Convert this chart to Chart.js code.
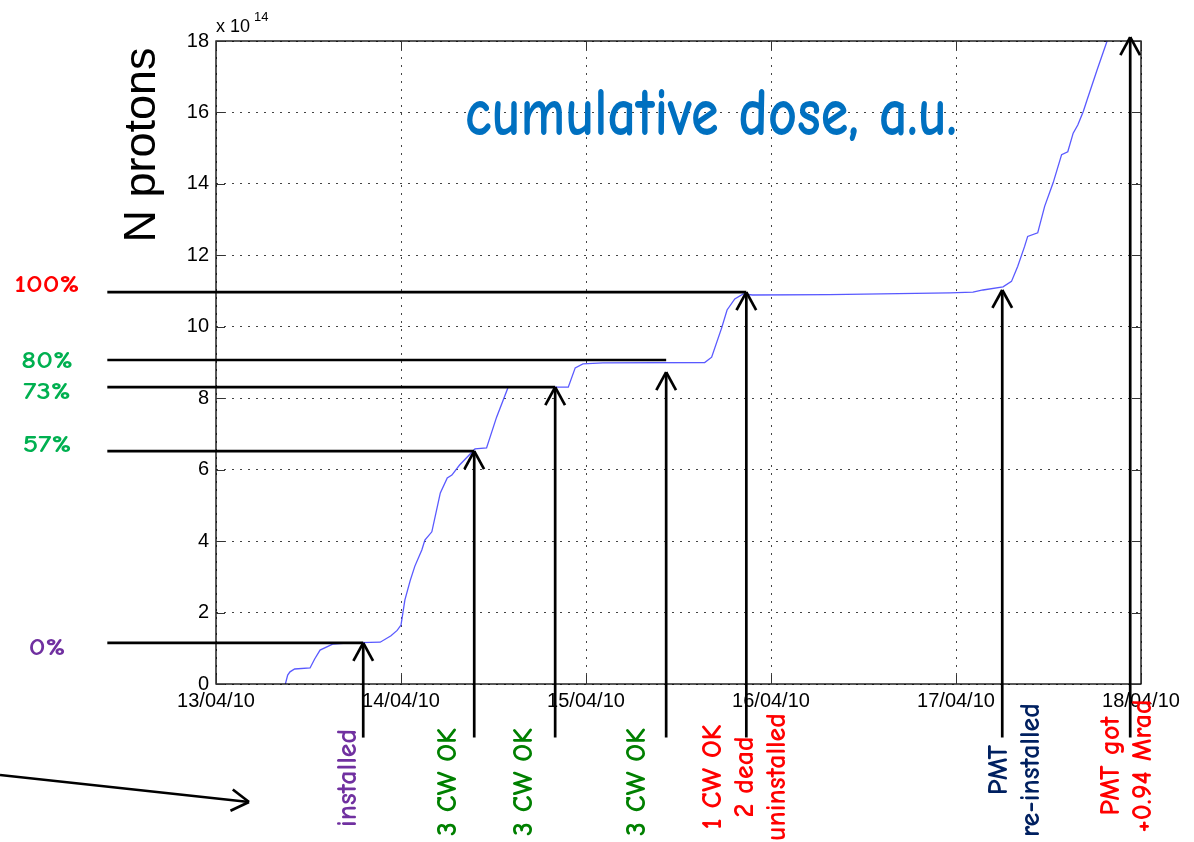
<!DOCTYPE html>
<html><head><meta charset="utf-8">
<script src="https://cdn.jsdelivr.net/npm/chart.js@4/dist/chart.umd.min.js"></script>
<style>html,body{margin:0;padding:0;background:#fff;overflow:hidden}#wrap{width:1194px;height:842px}</style>
</head><body><div id="wrap"><canvas id="c" width="1194" height="842"></canvas></div>
<script>
// ---- data (x: hours since 13/04/10 00:00, y: N protons in units of 1e14) ----
const hoursSinceStart = [9.0, 9.3, 9.6, 10.2, 12.2, 12.8, 13.5, 15.2, 17.4, 21.3, 22.7, 23.5, 24.0, 24.5, 25.2, 25.8, 26.7, 27.1, 28.0, 29.1, 30.0, 30.6, 31.6, 33.6, 35.1, 36.4, 37.9, 45.7, 46.6, 47.6, 50.2, 63.4, 64.3, 65.6, 66.3, 67.3, 68.4, 69.6, 79.6, 95.2, 98.2, 99.5, 102.1, 103.2, 104.0, 104.9, 105.3, 106.6, 107.5, 108.6, 109.7, 110.5, 111.2, 111.8, 112.5, 113.0, 114.3, 115.6];
const protons = [0.0, 0.25, 0.34, 0.42, 0.45, 0.7, 0.95, 1.12, 1.15, 1.17, 1.35, 1.5, 1.65, 2.35, 2.9, 3.3, 3.75, 4.03, 4.26, 5.35, 5.77, 5.85, 6.13, 6.58, 6.61, 7.47, 8.31, 8.31, 8.85, 8.96, 8.99, 9.0, 9.15, 9.97, 10.47, 10.78, 10.92, 10.89, 10.9, 10.95, 10.97, 11.03, 11.12, 11.27, 11.69, 12.25, 12.53, 12.63, 13.37, 14.03, 14.82, 14.9, 15.42, 15.65, 16.02, 16.35, 17.19, 18.0];
const xTickLabels = ['13/04/10', '14/04/10', '15/04/10', '16/04/10', '17/04/10', '18/04/10'];
const xTickHours = [0, 24, 48, 72, 96, 120];
const yTicks = [0, 2, 4, 6, 8, 10, 12, 14, 16, 18];

// events (arrows) and dose levels
const eventHours = [19.1, 33.5, 44.0, 58.4, 68.8, 102.0, 118.6];
const eventTipLevels = [1.15, 6.52, 8.31, 8.73, 10.97, 11.03, 18.11];
const eventLabels = [['installed'], ['3 CW OK'], ['3 CW OK'], ['3 CW OK'], ['1 CW OK', '2 dead', 'uninstalled'], ['PMT', 're-installed'], ['PMT got', '+0.94 Mrad']];
const levelValues = [1.15, 6.52, 8.31, 9.07, 10.97];
const levelLabels = ['0%', '57%', '73%', '80%', '100%'];
const levelEvent = [0, 1, 2, 3, 4];

// ---- layout / style (kept apart from data) ----
const axisFont = "'Liberation Sans', Arial, sans-serif";
const handFont = "'Comic Sans MS','Comic Neue','Noto Sans',sans-serif";
const eventStyle = [
  {color: '#7030A0', dx: -15, cy: 778},
  {color: '#008000', dx: -26, cy: 782},
  {color: '#008000', dx: -31, cy: 782},
  {color: '#008000', dx: -29, cy: 782},
  {color: '#FF0000', dx: -1, cy: 777},
  {color: '#002060', dx: 13, cy: 770},
  {color: '#FF0000', dx: -3, cy: 766}
];
const levelStyle = [
  {color: '#7030A0', dy: 5},
  {color: '#00B050', dy: -6},
  {color: '#00B050', dy: 5},
  {color: '#00B050', dy: 1},
  {color: '#FF0000', dy: -7}
];
const levelLineStartHour = -14.1;
const arrowBottomValue = -1.5;

function arrowHead(ctx, x, y, ang, arm, spread) {
  for (const s of [-1, 1]) {
    const a = ang + Math.PI + s * spread;
    ctx.beginPath();
    ctx.moveTo(x + Math.cos(a) * arm, y + Math.sin(a) * arm);
    ctx.lineTo(x, y);
    ctx.stroke();
  }
}

const overlay = {
  id: 'overlay',
  afterDraw(chart) {
    const {ctx, chartArea: a, scales: {x, y}} = chart;
    ctx.save();
    // box
    ctx.strokeStyle = '#000';
    ctx.lineWidth = 1.3;
    ctx.strokeRect(a.left, a.top, a.right - a.left, a.bottom - a.top);
    // inward tick marks
    ctx.lineWidth = 1;
    ctx.strokeStyle = '#333';
    yTicks.forEach(v => {
      const p = Math.round(y.getPixelForValue(v)) + 0.5;
      ctx.beginPath(); ctx.moveTo(a.left, p); ctx.lineTo(a.left + 9, p); ctx.stroke();
      ctx.beginPath(); ctx.moveTo(a.right, p); ctx.lineTo(a.right - 9, p); ctx.stroke();
    });
    xTickHours.forEach(v => {
      const p = Math.round(x.getPixelForValue(v)) + 0.5;
      ctx.beginPath(); ctx.moveTo(p, a.bottom); ctx.lineTo(p, a.bottom - 9); ctx.stroke();
      ctx.beginPath(); ctx.moveTo(p, a.top); ctx.lineTo(p, a.top + 9); ctx.stroke();
    });

    // level lines
    ctx.strokeStyle = '#000';
    ctx.lineWidth = 2.7;
    ctx.lineCap = 'butt';
    const x0 = x.getPixelForValue(levelLineStartHour);
    levelValues.forEach((v, i) => {
      const yy = y.getPixelForValue(v);
      const xe = x.getPixelForValue(eventHours[levelEvent[i]]);
      ctx.beginPath(); ctx.moveTo(x0, yy); ctx.lineTo(xe, yy); ctx.stroke();
    });
    // event arrows
    const yb = y.getPixelForValue(arrowBottomValue);
    eventHours.forEach((h, i) => {
      const xx = x.getPixelForValue(h);
      const yt = y.getPixelForValue(eventTipLevels[i]);
      ctx.beginPath(); ctx.moveTo(xx, yb); ctx.lineTo(xx, yt); ctx.stroke();
      arrowHead(ctx, xx, yt, -Math.PI / 2, 20.5, 0.5);
    });
    // bottom-left pointer arrow
    ctx.beginPath(); ctx.moveTo(0, 775); ctx.lineTo(249, 802); ctx.stroke();
    arrowHead(ctx, 249, 802, Math.atan2(27, 249), 20.5, 0.55);

    // level labels
    ctx.textAlign = 'center';
    ctx.textBaseline = 'middle';
    ctx.font = `bold 25px ${handFont}`;
    levelValues.forEach((v, i) => {
      ctx.save();
      ctx.translate(47, y.getPixelForValue(v) + levelStyle[i].dy);
      ctx.scale(1.17, 1);
      ctx.fillStyle = levelStyle[i].color;
      ctx.fillText(levelLabels[i], 0, 0);
      ctx.restore();
    });
    // event labels, rotated
    ctx.font = `bold 28px ${handFont}`;
    eventLabels.forEach((lines, i) => {
      const st = eventStyle[i];
      const cx = x.getPixelForValue(eventHours[i]) + st.dx;
      const n = lines.length;
      lines.forEach((t, j) => {
        const lx = cx + (j - (n - 1) / 2) * 32;
        ctx.save();
        ctx.translate(lx, st.cy);
        ctx.rotate(-Math.PI / 2);
        ctx.scale(1.0, 1);
        ctx.fillStyle = st.color;
        ctx.fillText(t, 0, 0);
        ctx.restore();
      });
    });

    // title in plot
    ctx.save();
    ctx.font = `bold 68px ${handFont}`;
    ctx.fillStyle = '#0070C0';
    ctx.textAlign = 'left';
    ctx.textBaseline = 'alphabetic';
    const title = 'cumulative dose, a.u.';
    const w = ctx.measureText(title).width;
    ctx.translate(465, 135);
    ctx.scale(492 / w, 1);
    ctx.fillText(title, 0, 0);
    ctx.restore();

    // y axis title
    ctx.save();
    ctx.font = `45px ${axisFont}`;
    ctx.fillStyle = '#000';
    ctx.textAlign = 'center';
    ctx.textBaseline = 'middle';
    ctx.translate(143, 145);
    ctx.rotate(-Math.PI / 2);
    ctx.fillText('N protons', 0, 0);
    ctx.restore();

    // exponent label
    ctx.fillStyle = '#000';
    ctx.textAlign = 'left';
    ctx.textBaseline = 'alphabetic';
    ctx.font = `18px ${axisFont}`;
    ctx.fillText('x 10', 216, 32);
    ctx.font = `13px ${axisFont}`;
    ctx.fillText('14', 254, 21);
    ctx.restore();
  }
};

const data = hoursSinceStart.map((h, i) => ({x: h, y: protons[i]}));

new Chart(document.getElementById('c'), {
  type: 'line',
  data: {datasets: [{
    data,
    borderColor: 'rgba(60,60,255,0.85)',
    borderWidth: 1.3,
    pointRadius: 0,
    tension: 0,
    fill: false
  }]},
  options: {
    responsive: false,
    animation: false,
    devicePixelRatio: 1,
    layout: {padding: {left: 0, right: 53, top: 41, bottom: 0}},
    plugins: {legend: {display: false}, tooltip: {enabled: false}},
    scales: {
      x: {
        type: 'linear', min: 0, max: 120,
        afterFit(s) { s.height = 158; },
        afterBuildTicks(s) { s.ticks = xTickHours.map(v => ({value: v})); },
        ticks: {
          callback: (v) => xTickLabels[xTickHours.indexOf(v)],
          color: '#000', font: {family: axisFont, size: 20}, padding: 5, maxRotation: 0, autoSkip: false
        },
        grid: {color: '#444', lineWidth: 1, drawTicks: false},
        border: {display: false, dash: [2, 6]}
      },
      y: {
        type: 'linear', min: 0, max: 18,
        afterFit(s) { s.width = 216; },
        afterBuildTicks(s) { s.ticks = yTicks.map(v => ({value: v})); },
        ticks: {color: '#000', font: {family: axisFont, size: 20}, padding: 7},
        grid: {color: '#444', lineWidth: 1, drawTicks: false},
        border: {display: false, dash: [2, 6]}
      }
    }
  },
  plugins: [overlay]
});
</script>
</body></html>
